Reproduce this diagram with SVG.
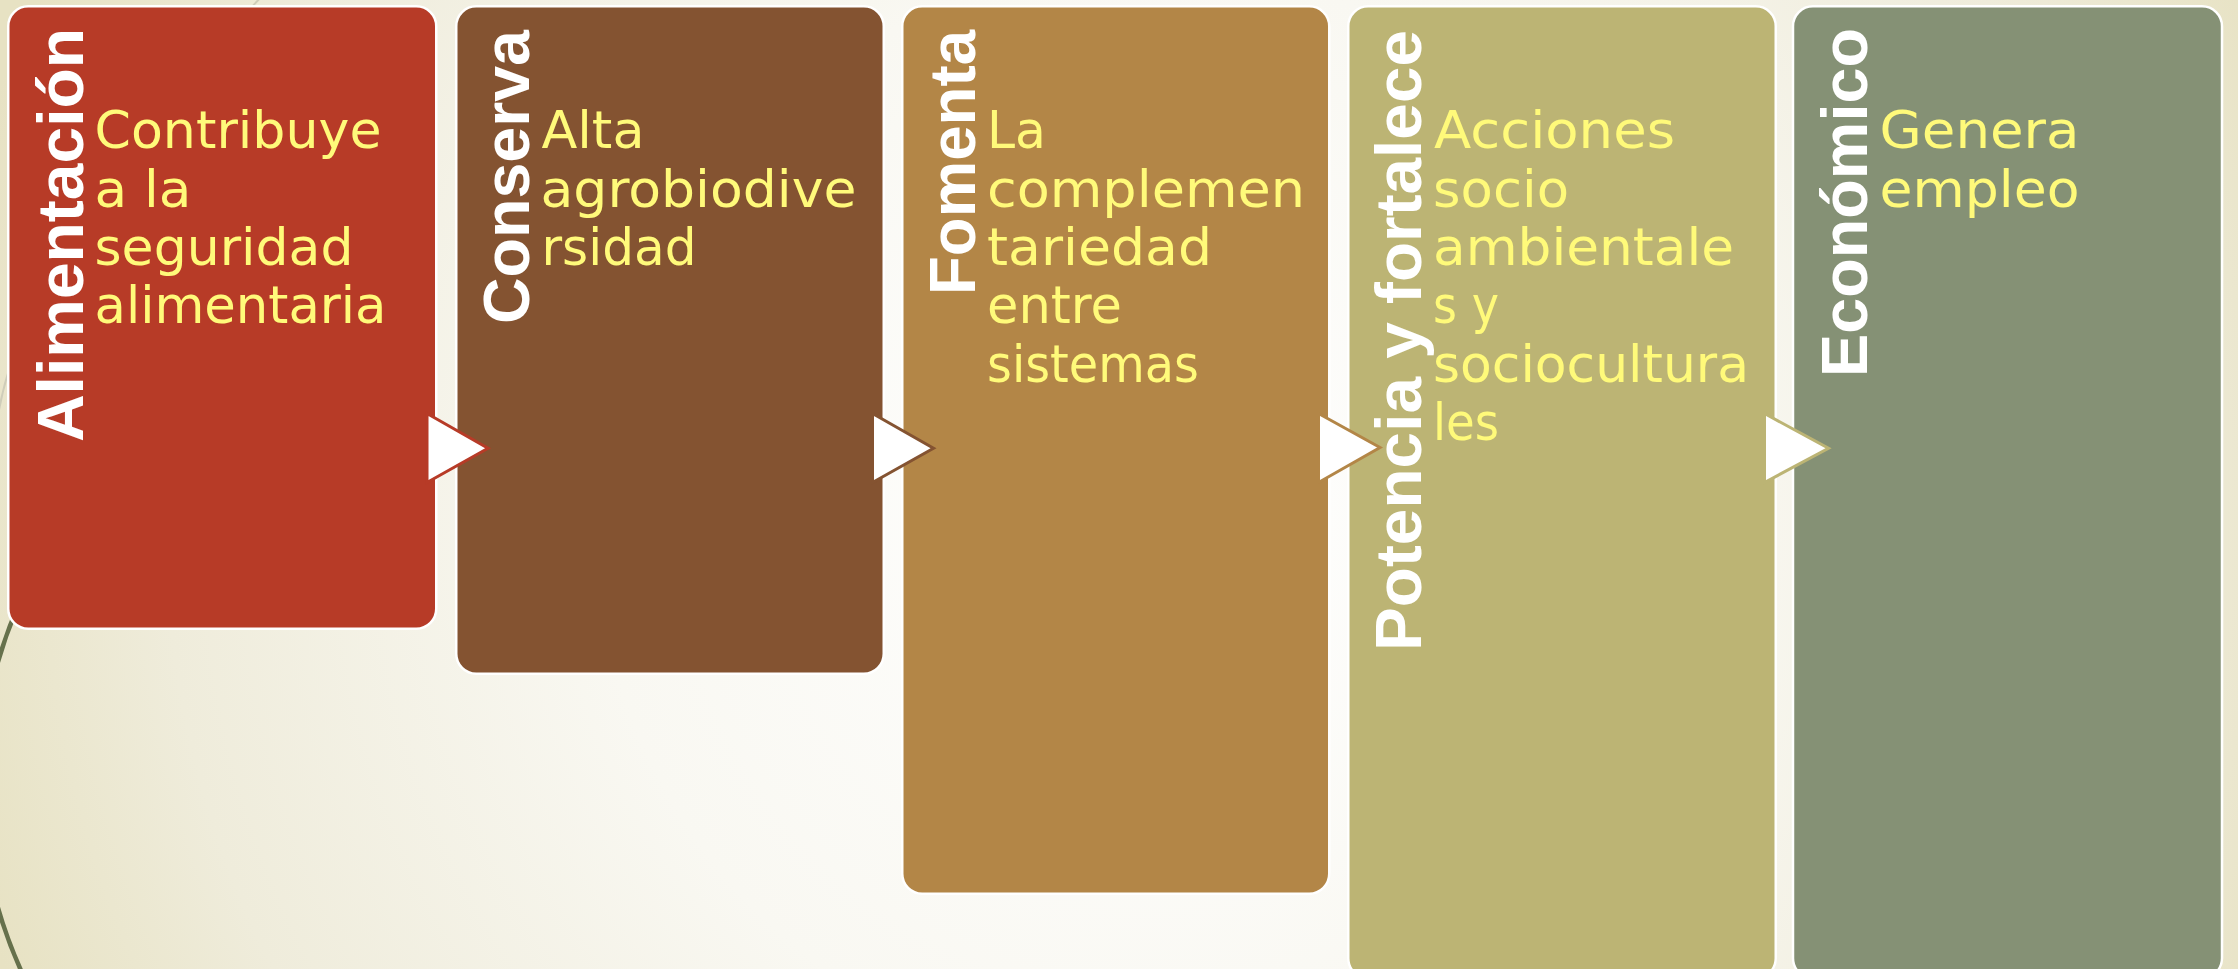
<svg xmlns="http://www.w3.org/2000/svg" width="2238" height="969" viewBox="0 0 2238 969">
  <defs>
    <radialGradient id="bg" gradientUnits="userSpaceOnUse" cx="1150" cy="520" r="1230">
      <stop offset="0" stop-color="#FFFFFF"/>
      <stop offset="0.45" stop-color="#F9F8F2"/>
      <stop offset="0.8" stop-color="#EFECDB"/>
      <stop offset="1" stop-color="#E7E2C3"/>
    </radialGradient>
    <style>
      .box { stroke: #FFFFFF; stroke-width: 2.5; }
      .title { font-family: "Liberation Sans", Arial, sans-serif; font-weight: bold; font-size: 65px; fill: #FFFFFF; }
      .desc { font-family: "DejaVu Sans", "Liberation Sans", sans-serif; font-size: 52px; fill: #FFFA7A; }
      .arrow { fill: #FFFFFF; stroke-width: 3; stroke-linejoin: miter; }
    </style>
  </defs>

  <rect x="0" y="0" width="2238" height="969" fill="url(#bg)"/>
  <g id="decor" fill="none">
    <path d="M 262 -4 Q 15 260 -4 430" stroke="#CFCDB9" stroke-width="2"/>
    <path d="M 41.3 560 A 450 450 0 0 0 23.1 975" stroke="#66714C" stroke-width="4.5"/>
  </g>

  <g id="nodes">
    <g id="node-alimentacion">
      <rect class="box" x="8.25" y="6.25" width="428" height="622.5" rx="20" fill="#B73B27"/>
      <text class="title" transform="translate(82.5,442) rotate(-90)" textLength="414" lengthAdjust="spacingAndGlyphs">Alimentación</text>
      <text class="desc" x="94.5" y="148.3" textLength="287" lengthAdjust="spacingAndGlyphs">Contribuye</text>
      <text class="desc" x="94.5" y="206.7" textLength="97" lengthAdjust="spacingAndGlyphs">a la</text>
      <text class="desc" x="94.5" y="265" textLength="259" lengthAdjust="spacingAndGlyphs">seguridad</text>
      <text class="desc" x="94.5" y="323.3" textLength="292" lengthAdjust="spacingAndGlyphs">alimentaria</text>
    </g>

    <g id="node-conserva">
      <rect class="box" x="456.25" y="6.25" width="427.5" height="667.5" rx="20" fill="#845331"/>
      <text class="title" transform="translate(528.5,324) rotate(-90)" textLength="294" lengthAdjust="spacingAndGlyphs">Conserva</text>
      <text class="desc" x="541.5" y="148.3" textLength="103" lengthAdjust="spacingAndGlyphs">Alta</text>
      <text class="desc" x="540.5" y="206.7" textLength="316" lengthAdjust="spacingAndGlyphs">agrobiodive</text>
      <text class="desc" x="541.5" y="265" textLength="155" lengthAdjust="spacingAndGlyphs">rsidad</text>
    </g>

    <g id="node-fomenta">
      <rect class="box" x="902.25" y="6.25" width="427" height="887.5" rx="20" fill="#B38647"/>
      <text class="title" transform="translate(975,295) rotate(-90)" textLength="265" lengthAdjust="spacingAndGlyphs">Fomenta</text>
      <text class="desc" x="987" y="148.3" textLength="59" lengthAdjust="spacingAndGlyphs">La</text>
      <text class="desc" x="987" y="206.7" textLength="318" lengthAdjust="spacingAndGlyphs">complemen</text>
      <text class="desc" x="987" y="265" textLength="225" lengthAdjust="spacingAndGlyphs">tariedad</text>
      <text class="desc" x="987" y="323.3" textLength="135" lengthAdjust="spacingAndGlyphs">entre</text>
      <text class="desc" x="987" y="381.7" textLength="212" lengthAdjust="spacingAndGlyphs">sistemas</text>
    </g>

    <g id="node-potencia">
      <rect class="box" x="1348.25" y="6.25" width="427.5" height="972" rx="20" fill="#BCB474"/>
      <text class="title" transform="translate(1421,651) rotate(-90)" textLength="621" lengthAdjust="spacingAndGlyphs">Potencia y fortalece</text>
      <text class="desc" x="1434" y="148.3" textLength="241" lengthAdjust="spacingAndGlyphs">Acciones</text>
      <text class="desc" x="1433" y="206.7" textLength="136" lengthAdjust="spacingAndGlyphs">socio</text>
      <text class="desc" x="1433" y="265" textLength="301" lengthAdjust="spacingAndGlyphs">ambientale</text>
      <text class="desc" x="1433" y="323.3" textLength="66" lengthAdjust="spacingAndGlyphs">s y</text>
      <text class="desc" x="1433" y="381.7" textLength="316" lengthAdjust="spacingAndGlyphs">sociocultura</text>
      <text class="desc" x="1433" y="440" textLength="66" lengthAdjust="spacingAndGlyphs">les</text>
    </g>

    <g id="node-economico">
      <rect class="box" x="1793" y="6.25" width="429" height="972" rx="20" fill="#859175"/>
      <text class="title" transform="translate(1867,377) rotate(-90)" textLength="349" lengthAdjust="spacingAndGlyphs">Económico</text>
      <text class="desc" x="1879.5" y="148.3" textLength="200" lengthAdjust="spacingAndGlyphs">Genera</text>
      <text class="desc" x="1879.5" y="206.7" textLength="200" lengthAdjust="spacingAndGlyphs">empleo</text>
    </g>
  </g>

  <g id="connectors">
    <polygon class="arrow" points="427,413.5 488,448.3 427,482.5" stroke="#B73B27"/>
    <polygon class="arrow" points="872.5,413.5 933.5,448.3 872.5,482.5" stroke="#845331"/>
    <polygon class="arrow" points="1318.5,413.5 1380,447.5 1318.5,482.5" stroke="#B38647"/>
    <polygon class="arrow" points="1764.5,413.5 1828.5,448.3 1764.5,482.5" stroke="#BCB474"/>
  </g>
</svg>
